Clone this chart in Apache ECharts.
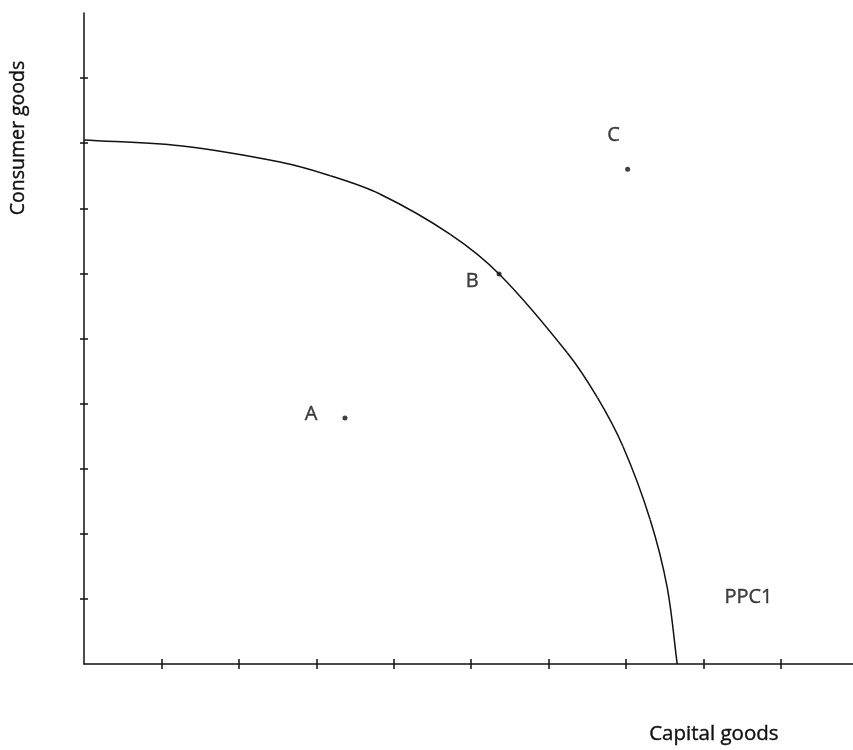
<!DOCTYPE html>
<html>
<head>
<meta charset="utf-8">
<script src="https://cdn.jsdelivr.net/npm/echarts@6/dist/echarts.min.js"></script>
<style>html,body{margin:0;padding:0;background:#fff}#c{width:853px;height:750px}</style>
</head>
<body>
<div id="c"></div>
<script>
// PPC curve: capital goods (x) vs consumer goods (y)
const ppcX = [0, 1.24, 2.53, 3.18, 3.82, 4.73, 5.37, 6.24, 6.63, 6.96, 7.31, 7.53, 7.66];
const ppcY = [8.05, 7.96, 7.71, 7.50, 7.22, 6.60, 5.98, 4.78, 4.09, 3.34, 2.22, 1.18, 0];
// labelled points
const pointNames = ['A', 'B', 'C'];
const pointX = [3.37, 5.36, 7.02];
const pointY = [3.78, 5.99, 7.60];
// curve label
const curveName = 'PPC1';
const curveLabelX = [8.58];
const curveLabelY = [1.02];
// ticks
const xTicks = [1, 2, 3, 4, 5, 6, 7, 8, 9];
const yTicks = [1, 2, 3, 4, 5, 6, 7, 8, 9];
const xTitle = 'Capital goods';
const yTitle = 'Consumer goods';

const FONT = 'Open Sans';
const INK = '#111111';
const labelOffsets = { A: [-34, -4], B: [-27, 7], C: [-14, -34] };

const chart = echarts.init(document.getElementById('c'), null, { renderer: 'canvas' });

function xAxisDef(inside, showLine) {
  return {
    type: 'value', min: 0, max: 9.93, position: 'bottom', offset: 0,
    splitLine: { show: false },
    axisLine: { show: showLine, onZero: false, lineStyle: { color: INK, width: 1.5 } },
    axisTick: { show: true, inside: inside, length: 5, customValues: xTicks, lineStyle: { color: INK, width: 1.5 } },
    axisLabel: { show: false }
  };
}
function yAxisDef(inside, showLine) {
  return {
    type: 'value', min: 0, max: 10.0, position: 'left', offset: 0,
    splitLine: { show: false },
    axisLine: { show: showLine, onZero: false, lineStyle: { color: INK, width: 1.5 } },
    axisTick: { show: true, inside: inside, length: 4, customValues: yTicks, lineStyle: { color: INK, width: 1.5 } },
    axisLabel: { show: false }
  };
}

const textStyle = {
  color: INK, fontFamily: FONT, fontSize: 20, align: 'center', verticalAlign: 'middle',
  textBorderColor: INK, textBorderWidth: 0.4
};

// smooth curve through the data points, converted to pixels by the axes
function renderCurve(params, api) {
  if (params.dataIndex !== 0) return null;
  const n = ppcX.length;
  const P = [];
  for (let i = 0; i < n; i++) P.push(api.coord([ppcX[i], ppcY[i]]));
  const dist = (a, b) => Math.hypot(b[0] - a[0], b[1] - a[1]);
  const T = P.map((p, i) => {
    const a = P[Math.max(0, i - 1)], b = P[Math.min(n - 1, i + 1)];
    const d = (i > 0 ? dist(P[i - 1], p) : 0) + (i < n - 1 ? dist(p, P[i + 1]) : 0);
    return [(b[0] - a[0]) / d, (b[1] - a[1]) / d];
  });
  const children = [];
  for (let i = 0; i < n - 1; i++) {
    const p1 = P[i], p2 = P[i + 1];
    const L = dist(p1, p2) / 3;
    children.push({
      type: 'bezierCurve',
      shape: {
        x1: p1[0], y1: p1[1], x2: p2[0], y2: p2[1],
        cpx1: p1[0] + T[i][0] * L, cpy1: p1[1] + T[i][1] * L,
        cpx2: p2[0] - T[i + 1][0] * L, cpy2: p2[1] - T[i + 1][1] * L
      },
      style: { stroke: INK, lineWidth: 1.5, fill: null }
    });
  }
  return { type: 'group', children: children };
}

chart.setOption({
  animation: false,
  backgroundColor: '#fff',
  grid: { left: 84, right: 0, top: 13, bottom: 86, containLabel: false },
  xAxis: [xAxisDef(false, true), xAxisDef(true, false)],
  yAxis: [yAxisDef(false, true), yAxisDef(true, false)],
  graphic: [
    { type: 'text', left: 649, top: 723, style: { text: xTitle, font: '20.5px "' + FONT + '"', fill: INK, stroke: INK, lineWidth: 0.4 } },
    { type: 'text', x: 18, y: 138, rotation: Math.PI / 2, style: { text: yTitle, font: '19.5px "' + FONT + '"', fill: INK, stroke: INK, lineWidth: 0.4, align: 'center', verticalAlign: 'middle' } }
  ],
  series: [
    {
      type: 'custom', xAxisIndex: 0, yAxisIndex: 0,
      renderItem: renderCurve,
      data: ppcX.map((x, i) => [x, ppcY[i]]),
      encode: { x: 0, y: 1 },
      silent: true
    },
    {
      type: 'scatter', xAxisIndex: 0, yAxisIndex: 0,
      symbolSize: 5,
      itemStyle: { color: INK },
      data: pointNames.map((n, i) => ({
        name: n, value: [pointX[i], pointY[i]],
        label: { offset: labelOffsets[n] }
      })),
      label: Object.assign({ show: true, position: 'inside', formatter: '{b}' }, textStyle)
    },
    {
      type: 'scatter', xAxisIndex: 0, yAxisIndex: 0,
      symbolSize: 0,
      data: curveLabelX.map((x, i) => ({ name: curveName, value: [x, curveLabelY[i]] })),
      label: Object.assign({ show: true, position: 'inside', formatter: '{b}' }, textStyle)
    }
  ]
});
</script>
</body>
</html>
